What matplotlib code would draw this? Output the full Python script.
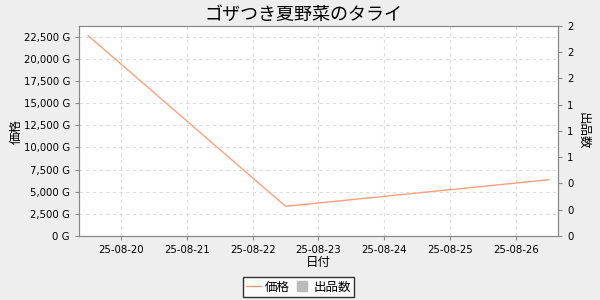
import matplotlib
matplotlib.use('Agg')
import matplotlib.pyplot as plt
import matplotlib.dates as mdates
from matplotlib.lines import Line2D
from datetime import datetime

plt.rcParams['font.family'] = ['DejaVu Sans', 'Noto Sans CJK JP']

# data
dates = ['2025-08-19 12:00', '2025-08-22 12:00', '2025-08-26 12:00']
prices = [22600, 3350, 6350]
price_ticks = [0, 2500, 5000, 7500, 10000, 12500, 15000, 17500, 20000, 22500]
count_ticks = [0, 0.25, 0.5, 0.75, 1.0, 1.25, 1.5, 1.75, 2.0]
count_labels = ['0', '0', '0', '1', '1', '1', '2', '2', '2']
date_ticks = ['2025-08-20', '2025-08-21', '2025-08-22', '2025-08-23',
              '2025-08-24', '2025-08-25', '2025-08-26']

title = 'ゴザつき夏野菜のタライ'
line_color = '#ff9f7f'
grid_color = '#dddddd'
spine_color = '#888888'

x = [datetime.strptime(d, '%Y-%m-%d %H:%M') for d in dates]
xt = [datetime.strptime(d, '%Y-%m-%d') for d in date_ticks]

fig = plt.figure(figsize=(6, 3), dpi=100, facecolor='#eeeeee')
ax = fig.add_axes([79/600, 1 - 236/300, (558 - 79)/600, (236 - 26)/300])
ax.set_facecolor('white')
ax.plot(x, prices, color=line_color, linewidth=1)

span = x[-1] - x[0]
ax.set_xlim(x[0] - span * 0.02, x[-1] + span * 0.02)
ax.set_ylim(0, 23700)
ax.set_yticks(price_ticks)
ax.set_yticklabels(['{:,} G'.format(v) for v in price_ticks])
ax.set_xticks(xt)
ax.xaxis.set_major_formatter(mdates.DateFormatter('%y-%m-%d'))
ax.grid(True, color=grid_color, linestyle=(0, (3, 3)), linewidth=0.8)

ax2 = ax.twinx()
ax2.set_ylim(0, 2.0)
ax2.set_yticks(count_ticks)
ax2.set_yticklabels(count_labels)

for a in (ax, ax2):
    for s in a.spines.values():
        s.set_color(spine_color)
    a.tick_params(colors=spine_color, labelcolor='black', labelsize=7.3, length=3)

ax.set_xlabel('日付', fontsize=9, labelpad=1)
ax.set_ylabel('価格', fontsize=9)
ax.yaxis.set_label_coords(-(79 - 23) / 479, 0.5)
ax2.set_ylabel('出品数', fontsize=9, rotation=-90, labelpad=12)

fig.suptitle(title, fontsize=13, x=0.505, y=0.98)

handles = [Line2D([], [], color=line_color, linewidth=1),
           Line2D([], [], color='#bbbbbb', marker='s', linestyle='none', markersize=7)]
leg = fig.legend(handles, ['価格', '出品数'], loc='center', bbox_to_anchor=(0.497, 1 - 287/300),
                 ncol=2, fontsize=9, frameon=True, fancybox=False, handlelength=1.2,
                 handletextpad=0.3, columnspacing=0.4, borderpad=0.25)
leg.get_frame().set_edgecolor('black')
leg.get_frame().set_linewidth(1)

fig.savefig('out.png', dpi=100, facecolor=fig.get_facecolor())
